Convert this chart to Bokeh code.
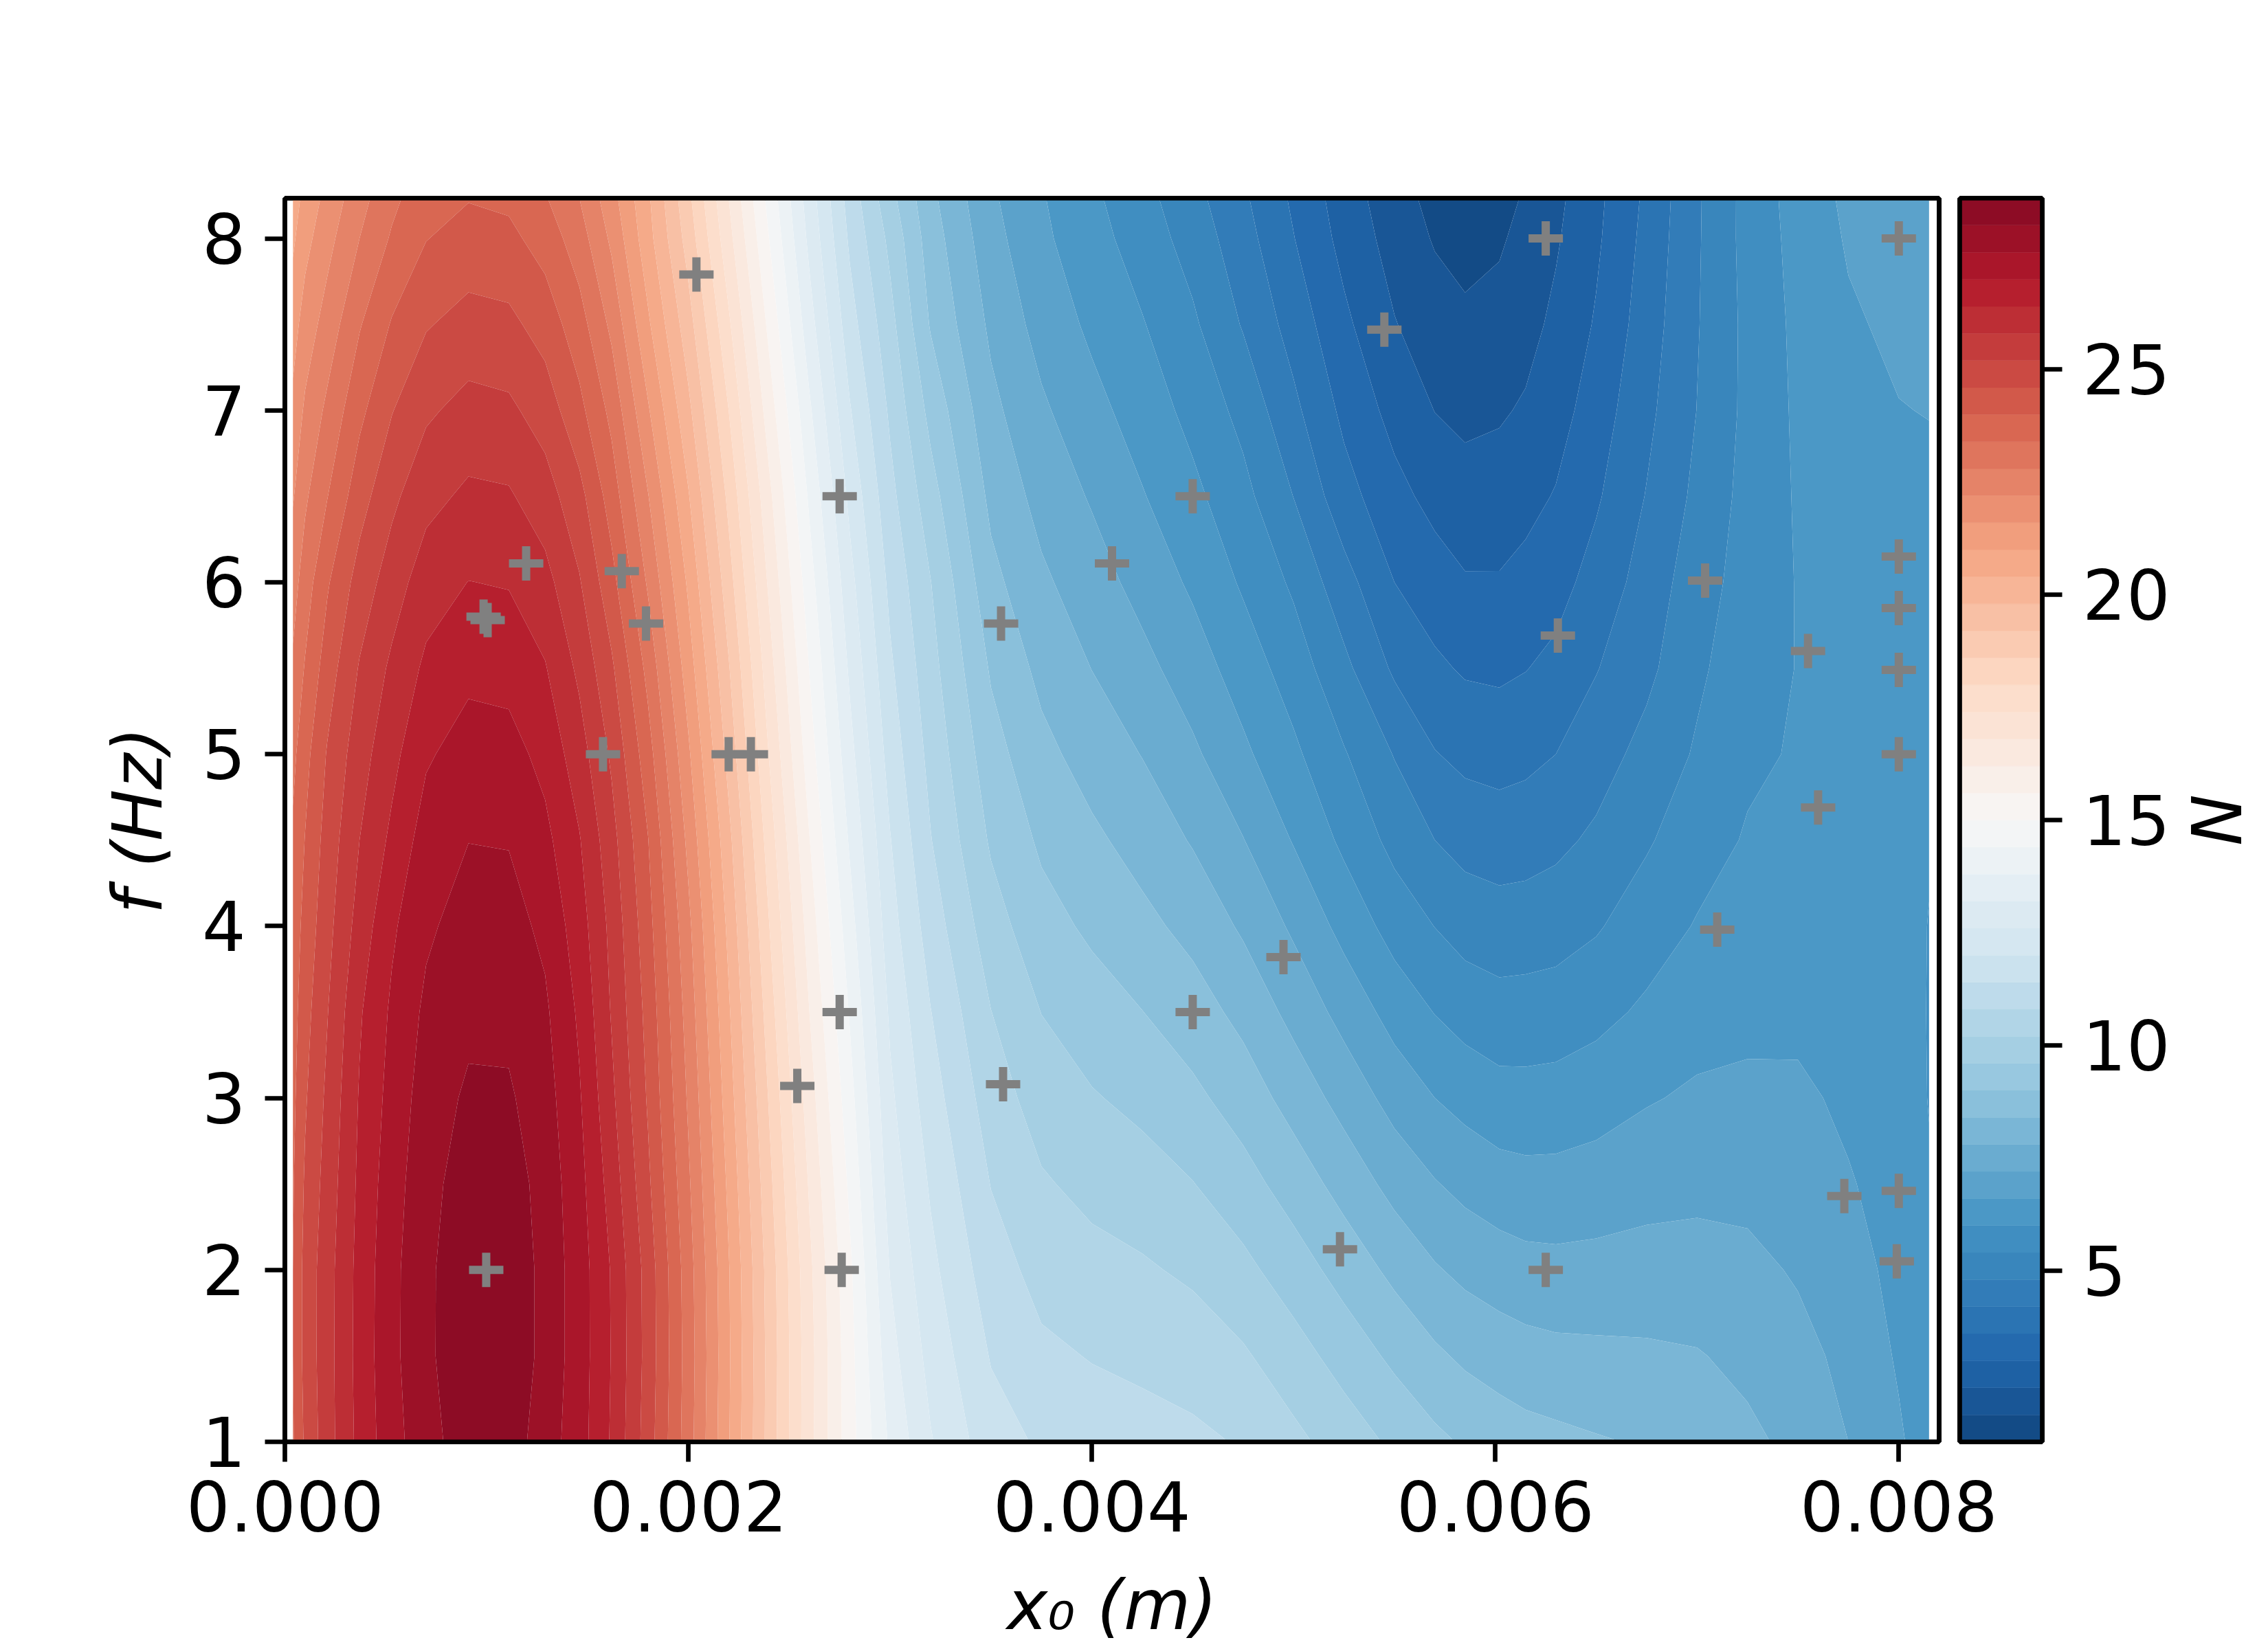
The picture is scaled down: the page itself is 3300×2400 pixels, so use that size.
import numpy as np
from bokeh.embed import file_html
from bokeh.layouts import row
from bokeh.models import FixedTicker, LinearAxis, Range1d
from bokeh.plotting import figure
from bokeh.resources import INLINE

FONT = "DejaVu Sans"
BLACK = "#000000"
FONT_FACES = """<style>
@font-face { font-family: "DejaVu Sans"; font-style: normal; font-weight: 400; src: local("DejaVu Sans"), local("DejaVuSans"); }
@font-face { font-family: "DejaVu Sans"; font-style: italic; font-weight: 400; src: local("DejaVu Sans Oblique"), local("DejaVuSans-Oblique"); }
</style>"""

f_rows = [1, 1.5, 2, 2.5, 3, 3.5, 4, 4.5, 5, 5.5, 6, 6.5, 7, 7.5, 8, 8.234]
x_cols_mm = [0.04, 0.1, 0.21, 0.37, 0.53, 0.70, 0.91, 1.11, 1.29, 1.46, 1.62, 1.8, 2.0, 2.2, 2.4,
             2.6, 2.8, 3.0, 3.2, 3.5, 3.75, 4.0, 4.25, 4.5, 4.75, 5.0, 5.25, 5.5, 5.7, 5.85, 6.02, 6.15,
             6.3, 6.5, 6.75, 7.0, 7.25, 7.5, 7.75, 8.0, 8.15]

# N: one list per x column, from f = 1 up to the top of the axes
N_by_column = [
    [23.95, 24.0, 24.0, 23.95, 23.85, 23.75, 23.65, 23.5, 23.25, 22.9, 22.55, 22.15, 21.75, 21.35, 20.9, 20.7],
    [24.7, 24.8, 24.8, 24.68, 24.53, 24.38, 24.2, 24.02, 23.8, 23.45, 23.1, 22.7, 22.3, 21.87, 21.4, 21.2],
    [25.55, 25.57, 25.56, 25.45, 25.33, 25.17, 25.0, 24.85, 24.65, 24.3, 23.93, 23.38, 22.93, 22.45, 22.0, 21.78],
    [26.58, 26.62, 26.6, 26.53, 26.45, 26.33, 26.05, 25.8, 25.55, 25.25, 24.85, 24.35, 23.85, 23.35, 22.8, 22.58],
    [27.38, 27.45, 27.44, 27.35, 27.22, 27.1, 26.9, 26.53, 26.22, 25.92, 25.5, 25.06, 24.57, 24.05, 23.47, 23.25],
    [27.96, 28.05, 28.05, 27.98, 27.88, 27.72, 27.5, 27.28, 26.92, 26.52, 26.12, 25.61, 25.1, 24.55, 23.98, 23.78],
    [28.55, 28.72, 28.7, 28.52, 28.3, 28.05, 27.85, 27.59, 27.27, 26.85, 26.41, 25.92, 25.4, 24.82, 24.23, 23.97],
    [28.5, 28.68, 28.68, 28.5, 28.28, 28.05, 27.82, 27.57, 27.22, 26.8, 26.36, 25.87, 25.32, 24.75, 24.15, 23.88],
    [27.9, 28.0, 28.0, 27.97, 27.85, 27.7, 27.47, 27.16, 26.82, 26.44, 26.0, 25.47, 24.93, 24.35, 23.75, 23.45],
    [27.26, 27.3, 27.3, 27.2, 27.06, 26.9, 26.68, 26.44, 26.07, 25.67, 25.25, 24.8, 24.17, 23.65, 23.08, 22.8],
    [26.33, 26.37, 26.35, 26.15, 25.93, 25.75, 25.63, 25.42, 25.1, 24.7, 24.2, 23.72, 23.23, 22.66, 22.08, 21.83],
    [24.9, 24.97, 24.95, 24.72, 24.53, 24.4, 24.22, 24.02, 23.65, 23.22, 22.72, 22.23, 21.67, 21.1, 20.62, 20.5],
    [23.07, 23.12, 23.07, 22.9, 22.72, 22.55, 22.35, 22.05, 21.7, 21.3, 20.9, 20.45, 19.95, 19.45, 18.95, 18.75],
    [21.04, 21.08, 21.04, 20.87, 20.68, 20.48, 20.25, 19.97, 19.6, 19.25, 18.85, 18.45, 18.0, 17.5, 17.0, 16.8],
    [18.98, 19.0, 18.95, 18.77, 18.55, 18.3, 18.02, 17.72, 17.38, 17.05, 16.7, 16.35, 15.9, 15.45, 15.0, 14.8],
    [17.0, 17.02, 16.94, 16.73, 16.48, 16.2, 15.93, 15.62, 15.28, 14.98, 14.65, 14.3, 13.9, 13.45, 13.05, 12.9],
    [15.25, 15.22, 15.12, 14.88, 14.62, 14.35, 14.05, 13.72, 13.4, 13.1, 12.8, 12.45, 12.05, 11.65, 11.3, 11.15],
    [13.7, 13.42, 13.17, 12.93, 12.72, 12.5, 12.25, 12.03, 11.75, 11.5, 11.25, 10.98, 10.7, 10.4, 10.05, 9.8],
    [12.65, 12.4, 12.16, 11.93, 11.67, 11.42, 11.12, 10.83, 10.62, 10.42, 10.22, 9.85, 9.42, 8.95, 8.7, 8.55],
    [11.65, 11.36, 11.07, 10.78, 10.5, 10.21, 9.86, 9.52, 9.24, 8.93, 8.58, 8.25, 7.96, 7.68, 7.42, 7.3],
    [11.32, 10.92, 10.6, 10.27, 9.93, 9.59, 9.22, 8.9, 8.57, 8.24, 7.91, 7.6, 7.3, 6.98, 6.72, 6.65],
    [11.1, 10.77, 10.4, 10.03, 9.65, 9.27, 8.89, 8.52, 8.15, 7.79, 7.47, 7.14, 6.79, 6.48, 6.23, 6.12],
    [11.0, 10.68, 10.28, 9.86, 9.44, 9.01, 8.56, 8.17, 7.78, 7.38, 6.99, 6.64, 6.33, 6.04, 5.72, 5.6],
    [10.92, 10.55, 10.09, 9.62, 9.14, 8.67, 8.22, 7.75, 7.31, 6.89, 6.5, 6.15, 5.82, 5.5, 5.16, 5.0],
    [10.75, 10.28, 9.76, 9.23, 8.72, 8.23, 7.71, 7.22, 6.72, 6.32, 5.92, 5.58, 5.22, 4.75, 4.44, 4.3],
    [10.35, 9.85, 9.29, 8.73, 8.17, 7.62, 7.1, 6.56, 6.12, 5.72, 5.3, 4.79, 4.34, 3.96, 3.62, 3.5],
    [9.93, 9.36, 8.77, 8.18, 7.58, 7.0, 6.41, 5.87, 5.45, 4.95, 4.43, 3.83, 3.46, 3.13, 2.81, 2.7],
    [9.48, 8.87, 8.25, 7.6, 6.98, 6.37, 5.76, 5.22, 4.77, 4.1, 3.6, 3.19, 2.8, 2.43, 2.16, 2.05],
    [9.14, 8.51, 7.86, 7.24, 6.6, 5.98, 5.39, 4.8, 4.23, 3.71, 3.28, 2.81, 2.39, 2.08, 1.75, 1.62],
    [8.93, 8.29, 7.65, 7.03, 6.4, 5.76, 5.16, 4.59, 4.05, 3.53, 3.06, 2.6, 2.28, 1.93, 1.58, 1.47],
    [8.75, 8.12, 7.5, 6.86, 6.22, 5.63, 5.06, 4.51, 3.98, 3.49, 3.05, 2.67, 2.33, 2.02, 1.72, 1.58],
    [8.62, 8.03, 7.4, 6.8, 6.2, 5.65, 5.08, 4.55, 4.05, 3.58, 3.18, 2.82, 2.47, 2.2, 2.0, 1.87],
    [8.55, 7.96, 7.37, 6.8, 6.23, 5.68, 5.15, 4.66, 4.2, 3.75, 3.38, 3.04, 2.75, 2.53, 2.33, 2.25],
    [8.45, 7.93, 7.39, 6.87, 6.34, 5.83, 5.34, 4.91, 4.53, 4.17, 3.83, 3.52, 3.29, 3.06, 2.9, 2.85],
    [8.35, 7.9, 7.42, 7.0, 6.55, 6.1, 5.72, 5.33, 5.0, 4.65, 4.45, 4.23, 4.05, 3.9, 3.78, 3.72],
    [8.13, 7.84, 7.43, 7.05, 6.69, 6.36, 6.04, 5.76, 5.47, 5.29, 5.13, 4.94, 4.81, 4.76, 4.73, 4.72],
    [7.93, 7.65, 7.35, 7.04, 6.75, 6.42, 6.22, 6.05, 5.9, 5.75, 5.65, 5.6, 5.55, 5.55, 5.6, 5.6],
    [7.64, 7.38, 7.14, 6.98, 6.72, 6.45, 6.25, 6.12, 6.05, 6.02, 6.03, 6.06, 6.1, 6.14, 6.2, 6.25],
    [7.2, 7.05, 6.85, 6.65, 6.48, 6.35, 6.25, 6.22, 6.2, 6.22, 6.25, 6.32, 6.4, 6.52, 6.66, 6.72],
    [6.68, 6.53, 6.42, 6.35, 6.3, 6.28, 6.28, 6.3, 6.33, 6.37, 6.42, 6.5, 6.58, 6.72, 6.82, 6.85],
    [6.3, 6.2, 6.15, 6.05, 5.98, 5.97, 5.98, 6.05, 6.15, 6.25, 6.3, 6.45, 6.62, 6.82, 6.93, 6.95],
]

sample_x_mm = [2.04, 6.25, 8.0, 5.45, 2.75, 4.5, 1.196, 1.67, 4.1, 7.04, 8.0, 8.0, 0.985, 1.005, 1.79, 3.55,
               6.31, 7.55, 8.0, 1.577, 2.2, 2.31, 8.0, 7.6, 7.1, 4.95, 2.75, 4.5, 2.54, 3.56, 7.73, 8.0,
               5.23, 0.998, 2.76, 6.25, 7.99]
sample_f = [7.79, 8.0, 8.0, 7.47, 6.5, 6.5, 6.11, 6.065, 6.11, 6.01, 6.15, 5.85, 5.8, 5.78, 5.76, 5.76,
            5.69, 5.6, 5.49, 5.0, 5.0, 5.0, 5.0, 4.69, 3.98, 3.82, 3.5, 3.5, 3.07, 3.08, 2.43, 2.46,
            2.12, 2.0, 2.0, 2.0, 2.05]

x_ticks = [0.0, 0.002, 0.004, 0.006, 0.008]
x_tick_labels = ["0.000", "0.002", "0.004", "0.006", "0.008"]
y_ticks = [1, 2, 3, 4, 5, 6, 7, 8]
cbar_ticks = [5, 10, 15, 20, 25]
x_label = "x\u2080 (m)"
y_label = "f (Hz)"
cbar_label = "N"

level_low, level_high, level_step = 1.2, 28.8, 0.6
norm_low, norm_high = 0.0, 30.0
rdbu_r = ["#053061", "#2166ac", "#4393c3", "#92c5de", "#d1e5f0", "#f7f7f7",
          "#fddbc7", "#f4a582", "#d6604d", "#b2182b", "#67001f"]


def band_colours(mids):
    anchors = np.array([[int(c[i:i + 2], 16) for i in (1, 3, 5)] for c in rdbu_r], dtype=float)
    pos = np.linspace(0, 1, len(rdbu_r))
    t = (np.asarray(mids) - norm_low) / (norm_high - norm_low)
    rgb = np.column_stack([np.interp(t, pos, anchors[:, i]) for i in range(3)])
    return ["#%02x%02x%02x" % tuple(int(round(v)) for v in c) for c in rgb]


levels = np.round(np.arange(level_low, level_high + level_step / 2, level_step), 6)
mids = (levels[:-1] + levels[1:]) / 2
colours = band_colours(mids)

X = np.array(x_cols_mm) * 1e-3
Y = np.array(f_rows, dtype=float)
Z = np.array(N_by_column).T

SPINE = 6.67
TICK = 29


def spine_axis():
    return LinearAxis(ticker=FixedTicker(ticks=[]), axis_line_color=BLACK, axis_line_width=SPINE,
                      major_tick_line_color=None, minor_tick_line_color=None, major_label_text_color=None,
                      major_label_text_font_size="0px", major_label_standoff=0)


p = figure(width=2915, height=2400, output_backend="svg", toolbar_location=None,
           x_range=Range1d(0, 0.0082), y_range=Range1d(1, 8.234),
           min_border_left=414, min_border_right=94, min_border_top=288, min_border_bottom=302)
p.contour(X, Y, Z, levels=levels.tolist(), fill_color=colours, line_color=None)
p.scatter(np.array(sample_x_mm) * 1e-3, sample_f, marker="cross", size=50, line_width=12,
          line_color="#808080", fill_color=None)

p.grid.visible = False
p.background_fill_color = "#ffffff"
p.border_fill_color = "#ffffff"
p.outline_line_color = BLACK
p.outline_line_width = SPINE
p.outline_line_alpha = 1
p.add_layout(spine_axis(), "above")
p.add_layout(spine_axis(), "right")

p.xaxis.ticker = FixedTicker(ticks=x_ticks)
p.yaxis.ticker = FixedTicker(ticks=y_ticks)
p.below[0].major_label_overrides = dict(zip(x_ticks, x_tick_labels))
p.above[0].ticker = FixedTicker(ticks=[])
p.right[0].ticker = FixedTicker(ticks=[])
for ax in (p.below[0], p.left[0]):
    ax.axis_line_color = BLACK
    ax.axis_line_width = SPINE
    ax.major_tick_line_color = BLACK
    ax.major_tick_line_width = SPINE
    ax.major_tick_in = 0
    ax.major_tick_out = TICK
    ax.minor_tick_line_color = None
    ax.major_label_text_font = FONT
    ax.major_label_text_font_size = "100px"
    ax.major_label_text_color = BLACK
    ax.major_label_standoff = 28
    ax.axis_label_text_font = FONT
    ax.axis_label_text_font_size = "100px"
    ax.axis_label_text_font_style = "italic"
    ax.axis_label_text_color = BLACK
p.below[0].axis_label = x_label
p.below[0].axis_label_standoff = 46
p.left[0].axis_label = y_label
p.left[0].axis_label_standoff = 32
p.left[0].major_label_orientation = "horizontal"

c = figure(width=457, height=2400, output_backend="svg", toolbar_location=None,
           x_range=Range1d(0, 1), y_range=Range1d(level_low, level_high),
           x_axis_location=None, y_axis_location="right", margin=(0, 0, 0, -72),
           min_border_left=8, min_border_right=329, min_border_top=288, min_border_bottom=302)
c.quad(left=0, right=1, bottom=levels[:-1], top=levels[1:], fill_color=colours, line_color=colours, line_width=0.5)
c.grid.visible = False
c.background_fill_color = "#ffffff"
c.border_fill_alpha = 0
c.outline_line_color = BLACK
c.outline_line_width = SPINE
c.add_layout(spine_axis(), "above")
c.add_layout(spine_axis(), "below")
c.add_layout(spine_axis(), "left")
ax = c.right[0]
ax.ticker = FixedTicker(ticks=cbar_ticks)
ax.axis_line_color = BLACK
ax.axis_line_width = SPINE
ax.major_tick_line_color = BLACK
ax.major_tick_line_width = SPINE
ax.major_tick_in = 0
ax.major_tick_out = TICK
ax.minor_tick_line_color = None
ax.major_label_text_font = FONT
ax.major_label_text_font_size = "100px"
ax.major_label_text_color = BLACK
ax.major_label_standoff = 29
ax.major_label_orientation = "horizontal"
ax.axis_label = cbar_label
ax.axis_label_text_font = FONT
ax.axis_label_text_font_size = "100px"
ax.axis_label_text_font_style = "italic"
ax.axis_label_text_color = BLACK
ax.axis_label_standoff = 3

layout = row(p, c, spacing=0)
open("out.html", "w").write(file_html(layout, INLINE).replace("<head>", "<head>" + FONT_FACES, 1))
